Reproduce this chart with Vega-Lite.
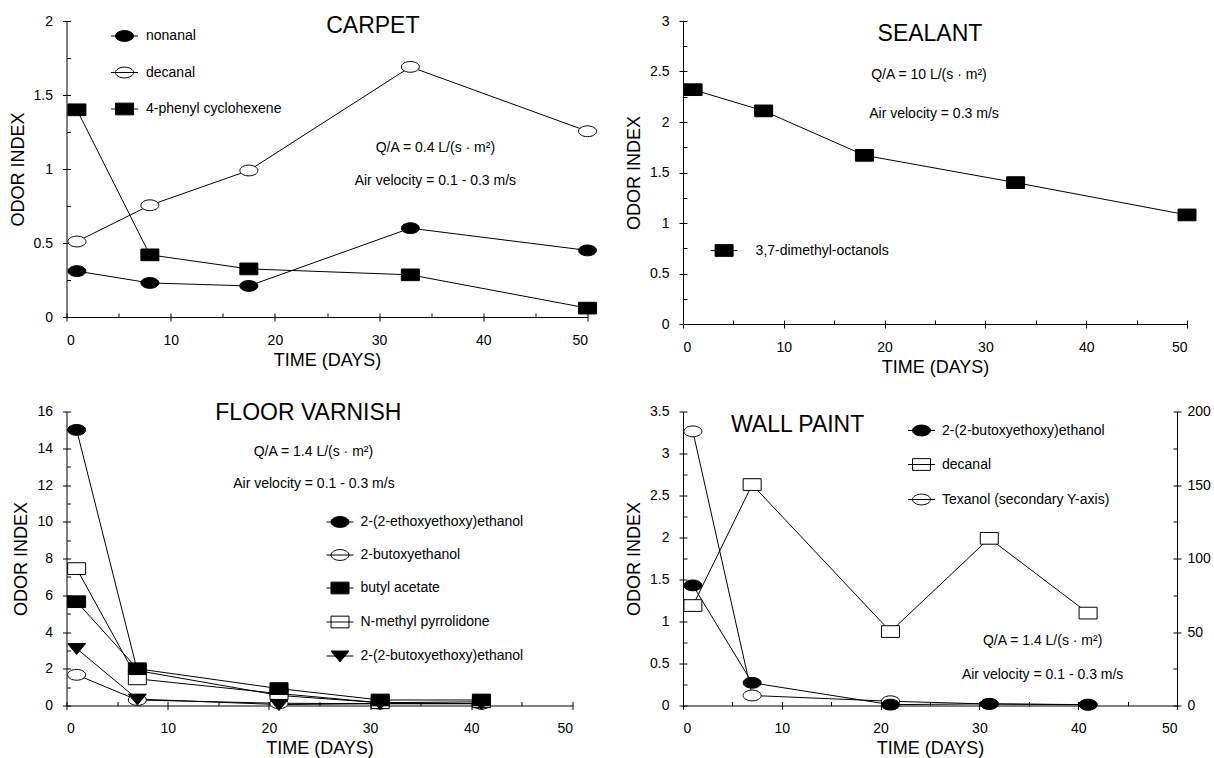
{
  "$schema": "https://vega.github.io/schema/vega-lite/v6.json",
  "padding": {"left": 8.5, "top": 14, "right": 0, "bottom": 0},
  "config": {
    "font": "Liberation Sans",
    "view": {"stroke": null},
    "axis": {"domainColor": "black", "tickColor": "black", "labelColor": "black", "titleColor": "black", "labelFontSize": 14, "titleFontSize": 18, "titleFontWeight": "normal", "grid": false, "labelFont": "Liberation Sans", "titleFont": "Liberation Sans", "domainWidth": 1, "tickWidth": 1},
    "legend": {"labelFontSize": 14, "labelColor": "black", "labelFont": "Liberation Sans", "padding": 0, "symbolOpacity": 1, "symbolStrokeColor": "black", "symbolStrokeWidth": 1, "symbolSize": 324, "orient": "none", "labelLimit": 400},
    "text": {"color": "black", "font": "Liberation Sans"}
  },
  "datasets": {
    "carpet": [
      {"day": 1, "value": 0.31, "compound": "nonanal"},
      {"day": 8, "value": 0.23, "compound": "nonanal"},
      {"day": 17.5, "value": 0.21, "compound": "nonanal"},
      {"day": 33, "value": 0.6, "compound": "nonanal"},
      {"day": 50, "value": 0.45, "compound": "nonanal"},
      {"day": 1, "value": 0.51, "compound": "decanal"},
      {"day": 8, "value": 0.755, "compound": "decanal"},
      {"day": 17.5, "value": 0.99, "compound": "decanal"},
      {"day": 33, "value": 1.69, "compound": "decanal"},
      {"day": 50, "value": 1.255, "compound": "decanal"},
      {"day": 1, "value": 1.4, "compound": "4-phenyl cyclohexene"},
      {"day": 8, "value": 0.42, "compound": "4-phenyl cyclohexene"},
      {"day": 17.5, "value": 0.325, "compound": "4-phenyl cyclohexene"},
      {"day": 33, "value": 0.285, "compound": "4-phenyl cyclohexene"},
      {"day": 50, "value": 0.06, "compound": "4-phenyl cyclohexene"}
    ],
    "sealant": [
      {"day": 1, "value": 2.32, "compound": "3,7-dimethyl-octanols"},
      {"day": 8, "value": 2.11, "compound": "3,7-dimethyl-octanols"},
      {"day": 18, "value": 1.67, "compound": "3,7-dimethyl-octanols"},
      {"day": 33, "value": 1.4, "compound": "3,7-dimethyl-octanols"},
      {"day": 50, "value": 1.08, "compound": "3,7-dimethyl-octanols"}
    ],
    "floor": [
      {"day": 1, "value": 15.0, "compound": "2-(2-ethoxyethoxy)ethanol"},
      {"day": 7, "value": 1.9, "compound": "2-(2-ethoxyethoxy)ethanol"},
      {"day": 21, "value": 0.55, "compound": "2-(2-ethoxyethoxy)ethanol"},
      {"day": 31, "value": 0.15, "compound": "2-(2-ethoxyethoxy)ethanol"},
      {"day": 41, "value": 0.1, "compound": "2-(2-ethoxyethoxy)ethanol"},
      {"day": 1, "value": 1.67, "compound": "2-butoxyethanol"},
      {"day": 7, "value": 0.3, "compound": "2-butoxyethanol"},
      {"day": 21, "value": 0.12, "compound": "2-butoxyethanol"},
      {"day": 31, "value": 0.1, "compound": "2-butoxyethanol"},
      {"day": 41, "value": 0.1, "compound": "2-butoxyethanol"},
      {"day": 1, "value": 7.45, "compound": "N-methyl pyrrolidone"},
      {"day": 7, "value": 1.45, "compound": "N-methyl pyrrolidone"},
      {"day": 21, "value": 0.65, "compound": "N-methyl pyrrolidone"},
      {"day": 31, "value": 0.15, "compound": "N-methyl pyrrolidone"},
      {"day": 41, "value": 0.2, "compound": "N-methyl pyrrolidone"},
      {"day": 1, "value": 3.1, "compound": "2-(2-butoxyethoxy)ethanol"},
      {"day": 7, "value": 0.35, "compound": "2-(2-butoxyethoxy)ethanol"},
      {"day": 21, "value": 0.05, "compound": "2-(2-butoxyethoxy)ethanol"},
      {"day": 31, "value": 0.1, "compound": "2-(2-butoxyethoxy)ethanol"},
      {"day": 41, "value": 0.1, "compound": "2-(2-butoxyethoxy)ethanol"},
      {"day": 1, "value": 5.65, "compound": "butyl acetate"},
      {"day": 7, "value": 2.0, "compound": "butyl acetate"},
      {"day": 21, "value": 0.92, "compound": "butyl acetate"},
      {"day": 31, "value": 0.3, "compound": "butyl acetate"},
      {"day": 41, "value": 0.3, "compound": "butyl acetate"}
    ],
    "wall": [
      {"day": 1, "value": 1.43, "compound": "2-(2-butoxyethoxy)ethanol"},
      {"day": 7, "value": 0.27, "compound": "2-(2-butoxyethoxy)ethanol"},
      {"day": 21, "value": 0.01, "compound": "2-(2-butoxyethoxy)ethanol"},
      {"day": 31, "value": 0.02, "compound": "2-(2-butoxyethoxy)ethanol"},
      {"day": 41, "value": 0.01, "compound": "2-(2-butoxyethoxy)ethanol"},
      {"day": 1, "value": 1.19, "compound": "decanal"},
      {"day": 7, "value": 2.63, "compound": "decanal"},
      {"day": 21, "value": 0.88, "compound": "decanal"},
      {"day": 31, "value": 1.99, "compound": "decanal"},
      {"day": 41, "value": 1.1, "compound": "decanal"},
      {"day": 1, "value": 186.5, "compound": "Texanol (secondary Y-axis)"},
      {"day": 7, "value": 6.8, "compound": "Texanol (secondary Y-axis)"},
      {"day": 21, "value": 2.9, "compound": "Texanol (secondary Y-axis)"},
      {"day": 31, "value": 1.0, "compound": "Texanol (secondary Y-axis)"},
      {"day": 41, "value": 0.5, "compound": "Texanol (secondary Y-axis)"}
    ]
  },
  "columns": 2,
  "align": "all",
  "bounds": "flush",
  "spacing": {"row": 87.5, "column": 95.5},
  "concat": [
    {
      "width": 521, "height": 296,
      "data": {"name": "carpet"},
      "layer": [
        {"mark": {"type": "line", "color": "black", "strokeWidth": 1},
         "encoding": {
           "x": {"field": "day", "type": "quantitative", "scale": {"domain": [0, 50], "nice": false}, "axis": {"orient": "bottom", "title": "TIME (DAYS)", "values": [0, 10, 20, 30, 40, 50], "tickSize": 4, "labelPadding": 12, "titlePadding": 4}},
           "y": {"field": "value", "type": "quantitative", "scale": {"domain": [0, 2], "nice": false}, "axis": {"orient": "left", "title": "ODOR INDEX", "values": [0, 0.5, 1, 1.5, 2], "format": "~r", "tickSize": 4, "labelPadding": 10, "titlePadding": 6}},
           "detail": {"field": "compound"}}},
        {"mark": {"type": "point", "filled": true, "size": 324, "stroke": "black", "strokeWidth": 1, "opacity": 1},
         "encoding": {
           "x": {"field": "day", "type": "quantitative", "scale": {"domain": [0, 50], "nice": false}, "axis": {"orient": "bottom", "title": null, "labels": false, "domain": false, "tickSize": -4, "values": [0, 5, 10, 15, 20, 25, 30, 35, 40, 45, 50]}},
           "y": {"field": "value", "type": "quantitative", "scale": {"domain": [0, 2], "nice": false}, "axis": {"orient": "left", "title": null, "labels": false, "domain": false, "tickSize": -4, "values": [0, 0.25, 0.5, 0.75, 1, 1.25, 1.5, 1.75, 2]}},
           "shape": {"field": "compound", "type": "nominal", "scale": {"domain": ["nonanal", "decanal", "4-phenyl cyclohexene"], "range": ["M-1,0A1,0.6,0,1,0,1,0A1,0.6,0,1,0,-1,0Z", "M-1,0A1,0.6,0,1,0,1,0A1,0.6,0,1,0,-1,0Z", "M-1,-0.65H1V0.65H-1Z"]}, "legend": null},
           "fill": {"field": "compound", "type": "nominal", "scale": {"domain": ["nonanal", "decanal", "4-phenyl cyclohexene"], "range": ["black", "white", "black"]}, "legend": null}}},
        {"mark": {"type": "point", "filled": true, "size": 324, "strokeWidth": 1, "opacity": 0},
         "encoding": {
           "x": {"field": "day", "type": "quantitative", "scale": {"domain": [0, 50], "nice": false}, "axis": null},
           "y": {"field": "value", "type": "quantitative", "scale": {"domain": [0, 2], "nice": false}, "axis": null},
           "shape": {"field": "compound", "type": "nominal", "scale": {"domain": ["nonanal", "decanal", "4-phenyl cyclohexene"], "range": ["M-1.5,0H1.5M-1,0A1,0.6,0,1,0,1,0A1,0.6,0,1,0,-1,0Z", "M-1.5,0H1.5M-1,0A1,0.6,0,1,0,1,0A1,0.6,0,1,0,-1,0Z", "M-1.5,0H1.5M-1,-0.65H1V0.65H-1Z"]}, "legend": {"title": null, "orient": "none", "legendX": 48.5, "legendY": 5.5, "rowPadding": 19.5, "labelOffset": 12}},
           "fill": {"field": "compound", "type": "nominal", "scale": {"domain": ["nonanal", "decanal", "4-phenyl cyclohexene"], "range": ["black", "white", "black"]}, "legend": {"title": null, "orient": "none", "legendX": 48.5, "legendY": 5.5, "rowPadding": 19.5, "labelOffset": 12}},
           "stroke": {"field": "compound", "type": "nominal", "scale": {"domain": ["nonanal", "decanal", "4-phenyl cyclohexene"], "range": ["black", "black", "black"]}, "legend": {"title": null, "orient": "none", "legendX": 48.5, "legendY": 5.5, "rowPadding": 19.5, "labelOffset": 12}}}},
        {"data": {"values": [{}]},
         "mark": {"type": "text", "fontSize": 23, "align": "center", "baseline": "middle", "text": "CARPET"},
         "encoding": {"x": {"datum": 29.4, "type": "quantitative", "scale": {"domain": [0, 50], "nice": false}, "axis": null}, "y": {"datum": 1.966, "type": "quantitative", "scale": {"domain": [0, 2], "nice": false}, "axis": null}}},
        {"data": {"values": [{}]},
         "mark": {"type": "text", "fontSize": 14, "align": "center", "baseline": "middle", "text": "Q/A = 0.4 L/(s · m²)"},
         "encoding": {"x": {"datum": 35.4, "type": "quantitative", "scale": {"domain": [0, 50], "nice": false}, "axis": null}, "y": {"datum": 1.14, "type": "quantitative", "scale": {"domain": [0, 2], "nice": false}, "axis": null}}},
        {"data": {"values": [{}]},
         "mark": {"type": "text", "fontSize": 14, "align": "center", "baseline": "middle", "text": "Air velocity = 0.1 - 0.3 m/s"},
         "encoding": {"x": {"datum": 35.4, "type": "quantitative", "scale": {"domain": [0, 50], "nice": false}, "axis": null}, "y": {"datum": 0.92, "type": "quantitative", "scale": {"domain": [0, 2], "nice": false}, "axis": null}}}
      ],
      "resolve": {"axis": {"x": "independent", "y": "independent"}, "scale": {"shape": "independent", "fill": "independent", "stroke": "independent"}}
    },
    {
      "width": 504, "height": 303,
      "data": {"name": "sealant"},
      "layer": [
        {"mark": {"type": "line", "color": "black", "strokeWidth": 1},
         "encoding": {
           "x": {"field": "day", "type": "quantitative", "scale": {"domain": [0, 50], "nice": false}, "axis": {"orient": "bottom", "title": "TIME (DAYS)", "values": [0, 10, 20, 30, 40, 50], "tickSize": 4, "labelPadding": 12, "titlePadding": 4}},
           "y": {"field": "value", "type": "quantitative", "scale": {"domain": [0, 3], "nice": false}, "axis": {"orient": "left", "title": "ODOR INDEX", "values": [0, 0.5, 1, 1.5, 2, 2.5, 3], "format": "~r", "tickSize": 4, "labelPadding": 10, "titlePadding": 6}},
           "detail": {"field": "compound"}}},
        {"mark": {"type": "point", "filled": true, "size": 324, "stroke": "black", "strokeWidth": 1, "opacity": 1},
         "encoding": {
           "x": {"field": "day", "type": "quantitative", "scale": {"domain": [0, 50], "nice": false}, "axis": {"orient": "bottom", "title": null, "labels": false, "domain": false, "tickSize": -4, "values": [0, 5, 10, 15, 20, 25, 30, 35, 40, 45, 50]}},
           "y": {"field": "value", "type": "quantitative", "scale": {"domain": [0, 3], "nice": false}, "axis": {"orient": "left", "title": null, "labels": false, "domain": false, "tickSize": -4, "values": [0, 0.25, 0.5, 0.75, 1, 1.25, 1.5, 1.75, 2, 2.25, 2.5, 2.75, 3]}},
           "shape": {"field": "compound", "type": "nominal", "scale": {"domain": ["3,7-dimethyl-octanols"], "range": ["M-1,-0.65H1V0.65H-1Z"]}, "legend": null},
           "fill": {"field": "compound", "type": "nominal", "scale": {"domain": ["3,7-dimethyl-octanols"], "range": ["black"]}, "legend": null}}},
        {"mark": {"type": "point", "filled": true, "size": 324, "strokeWidth": 1, "opacity": 0},
         "encoding": {
           "x": {"field": "day", "type": "quantitative", "scale": {"domain": [0, 50], "nice": false}, "axis": null},
           "y": {"field": "value", "type": "quantitative", "scale": {"domain": [0, 3], "nice": false}, "axis": null},
           "shape": {"field": "compound", "type": "nominal", "scale": {"domain": ["3,7-dimethyl-octanols"], "range": ["M-1.5,0H1.5M-1,-0.65H1V0.65H-1Z"]}, "legend": {"title": null, "orient": "none", "legendX": 31.6, "legendY": 220, "labelOffset": 22}},
           "fill": {"field": "compound", "type": "nominal", "scale": {"domain": ["3,7-dimethyl-octanols"], "range": ["black"]}, "legend": {"title": null, "orient": "none", "legendX": 31.6, "legendY": 220, "labelOffset": 22}},
           "stroke": {"field": "compound", "type": "nominal", "scale": {"domain": ["3,7-dimethyl-octanols"], "range": ["black"]}, "legend": {"title": null, "orient": "none", "legendX": 31.6, "legendY": 220, "labelOffset": 22}}}},
        {"data": {"values": [{}]},
         "mark": {"type": "text", "fontSize": 23, "align": "center", "baseline": "middle", "text": "SEALANT"},
         "encoding": {"x": {"datum": 24.5, "type": "quantitative", "scale": {"domain": [0, 50], "nice": false}, "axis": null}, "y": {"datum": 2.87, "type": "quantitative", "scale": {"domain": [0, 3], "nice": false}, "axis": null}}},
        {"data": {"values": [{}]},
         "mark": {"type": "text", "fontSize": 14, "align": "center", "baseline": "middle", "text": "Q/A = 10 L/(s · m²)"},
         "encoding": {"x": {"datum": 24.4, "type": "quantitative", "scale": {"domain": [0, 50], "nice": false}, "axis": null}, "y": {"datum": 2.47, "type": "quantitative", "scale": {"domain": [0, 3], "nice": false}, "axis": null}}},
        {"data": {"values": [{}]},
         "mark": {"type": "text", "fontSize": 14, "align": "center", "baseline": "middle", "text": "Air velocity = 0.3 m/s"},
         "encoding": {"x": {"datum": 24.9, "type": "quantitative", "scale": {"domain": [0, 50], "nice": false}, "axis": null}, "y": {"datum": 2.08, "type": "quantitative", "scale": {"domain": [0, 3], "nice": false}, "axis": null}}}
      ],
      "resolve": {"axis": {"x": "independent", "y": "independent"}, "scale": {"shape": "independent", "fill": "independent", "stroke": "independent"}}
    },
    {
      "width": 506, "height": 294,
      "data": {"name": "floor"},
      "layer": [
        {"mark": {"type": "line", "color": "black", "strokeWidth": 1},
         "encoding": {
           "x": {"field": "day", "type": "quantitative", "scale": {"domain": [0, 50], "nice": false}, "axis": {"orient": "bottom", "title": "TIME (DAYS)", "values": [0, 10, 20, 30, 40, 50], "tickSize": 4, "labelPadding": 12, "titlePadding": 4}},
           "y": {"field": "value", "type": "quantitative", "scale": {"domain": [0, 16], "nice": false}, "axis": {"orient": "left", "title": "ODOR INDEX", "values": [0, 2, 4, 6, 8, 10, 12, 14, 16], "format": "~r", "tickSize": 4, "labelPadding": 10, "titlePadding": 6}},
           "detail": {"field": "compound"}}},
        {"mark": {"type": "point", "filled": true, "size": 324, "stroke": "black", "strokeWidth": 1, "opacity": 1},
         "encoding": {
           "x": {"field": "day", "type": "quantitative", "scale": {"domain": [0, 50], "nice": false}, "axis": {"orient": "bottom", "title": null, "labels": false, "domain": false, "tickSize": -4, "values": [0, 5, 10, 15, 20, 25, 30, 35, 40, 45, 50]}},
           "y": {"field": "value", "type": "quantitative", "scale": {"domain": [0, 16], "nice": false}, "axis": {"orient": "left", "title": null, "labels": false, "domain": false, "tickSize": -4, "values": [0, 1, 2, 3, 4, 5, 6, 7, 8, 9, 10, 11, 12, 13, 14, 15, 16]}},
           "shape": {"field": "compound", "type": "nominal", "scale": {"domain": ["2-(2-ethoxyethoxy)ethanol", "2-butoxyethanol", "butyl acetate", "N-methyl pyrrolidone", "2-(2-butoxyethoxy)ethanol"], "range": ["M-1,0A1,0.6,0,1,0,1,0A1,0.6,0,1,0,-1,0Z", "M-1,0A1,0.6,0,1,0,1,0A1,0.6,0,1,0,-1,0Z", "M-1,-0.65H1V0.65H-1Z", "M-1,-0.65H1V0.65H-1Z", "M-1,-0.55H1L0,0.65Z"]}, "legend": null},
           "fill": {"field": "compound", "type": "nominal", "scale": {"domain": ["2-(2-ethoxyethoxy)ethanol", "2-butoxyethanol", "butyl acetate", "N-methyl pyrrolidone", "2-(2-butoxyethoxy)ethanol"], "range": ["black", "white", "black", "white", "black"]}, "legend": null}}},
        {"mark": {"type": "point", "filled": true, "size": 324, "strokeWidth": 1, "opacity": 0},
         "encoding": {
           "x": {"field": "day", "type": "quantitative", "scale": {"domain": [0, 50], "nice": false}, "axis": null},
           "y": {"field": "value", "type": "quantitative", "scale": {"domain": [0, 16], "nice": false}, "axis": null},
           "shape": {"field": "compound", "type": "nominal", "scale": {"domain": ["2-(2-ethoxyethoxy)ethanol", "2-butoxyethanol", "butyl acetate", "N-methyl pyrrolidone", "2-(2-butoxyethoxy)ethanol"], "range": ["M-1.5,0H1.5M-1,0A1,0.6,0,1,0,1,0A1,0.6,0,1,0,-1,0Z", "M-1.5,0H1.5M-1,0A1,0.6,0,1,0,1,0A1,0.6,0,1,0,-1,0Z", "M-1.5,0H1.5M-1,-0.65H1V0.65H-1Z", "M-1.5,0H1.5M-1,-0.65H1V0.65H-1Z", "M-1.5,0H1.5M-1,-0.55H1L0,0.65Z"]}, "legend": {"title": null, "orient": "none", "legendX": 264, "legendY": 101, "rowPadding": 16, "labelOffset": 11}},
           "fill": {"field": "compound", "type": "nominal", "scale": {"domain": ["2-(2-ethoxyethoxy)ethanol", "2-butoxyethanol", "butyl acetate", "N-methyl pyrrolidone", "2-(2-butoxyethoxy)ethanol"], "range": ["black", "white", "black", "white", "black"]}, "legend": {"title": null, "orient": "none", "legendX": 264, "legendY": 101, "rowPadding": 16, "labelOffset": 11}},
           "stroke": {"field": "compound", "type": "nominal", "scale": {"domain": ["2-(2-ethoxyethoxy)ethanol", "2-butoxyethanol", "butyl acetate", "N-methyl pyrrolidone", "2-(2-butoxyethoxy)ethanol"], "range": ["black", "black", "black", "black", "black"]}, "legend": {"title": null, "orient": "none", "legendX": 264, "legendY": 101, "rowPadding": 16, "labelOffset": 11}}}},
        {"data": {"values": [{}]},
         "mark": {"type": "text", "fontSize": 23, "align": "center", "baseline": "middle", "text": "FLOOR VARNISH"},
         "encoding": {"x": {"datum": 23.9, "type": "quantitative", "scale": {"domain": [0, 50], "nice": false}, "axis": null}, "y": {"datum": 15.9, "type": "quantitative", "scale": {"domain": [0, 16], "nice": false}, "axis": null}}},
        {"data": {"values": [{}]},
         "mark": {"type": "text", "fontSize": 14, "align": "center", "baseline": "middle", "text": "Q/A = 1.4 L/(s · m²)"},
         "encoding": {"x": {"datum": 24.4, "type": "quantitative", "scale": {"domain": [0, 50], "nice": false}, "axis": null}, "y": {"datum": 13.8, "type": "quantitative", "scale": {"domain": [0, 16], "nice": false}, "axis": null}}},
        {"data": {"values": [{}]},
         "mark": {"type": "text", "fontSize": 14, "align": "center", "baseline": "middle", "text": "Air velocity = 0.1 - 0.3 m/s"},
         "encoding": {"x": {"datum": 24.45, "type": "quantitative", "scale": {"domain": [0, 50], "nice": false}, "axis": null}, "y": {"datum": 12.04, "type": "quantitative", "scale": {"domain": [0, 16], "nice": false}, "axis": null}}}
      ],
      "resolve": {"axis": {"x": "independent", "y": "independent"}, "scale": {"shape": "independent", "fill": "independent", "stroke": "independent"}}
    },
    {
      "width": 494, "height": 294,
      "data": {"name": "wall"},
      "layer": [
        {"transform": [{"filter": "datum.compound !== 'Texanol (secondary Y-axis)'"}],
         "mark": {"type": "line", "color": "black", "strokeWidth": 1},
         "encoding": {
           "x": {"field": "day", "type": "quantitative", "scale": {"domain": [0, 50], "nice": false}, "axis": {"orient": "bottom", "title": "TIME (DAYS)", "values": [0, 10, 20, 30, 40, 50], "tickSize": 4, "labelPadding": 12, "titlePadding": 4}},
           "y": {"field": "value", "type": "quantitative", "scale": {"domain": [0, 3.5], "nice": false}, "axis": {"orient": "left", "title": "ODOR INDEX", "values": [0, 0.5, 1, 1.5, 2, 2.5, 3, 3.5], "format": "~r", "tickSize": 4, "labelPadding": 10, "titlePadding": 6}},
           "detail": {"field": "compound"}}},
        {"transform": [{"filter": "datum.compound === 'Texanol (secondary Y-axis)'"}],
         "mark": {"type": "line", "color": "black", "strokeWidth": 1},
         "encoding": {
           "x": {"field": "day", "type": "quantitative", "scale": {"domain": [0, 50], "nice": false}, "axis": null},
           "y": {"field": "value", "type": "quantitative", "scale": {"domain": [0, 200], "nice": false}, "axis": {"orient": "right", "title": null, "values": [0, 50, 100, 150, 200], "format": "d", "tickSize": 4, "labelPadding": 6}}}},
        {"transform": [{"filter": "datum.compound === 'Texanol (secondary Y-axis)'"}],
         "mark": {"type": "point", "filled": true, "size": 324, "stroke": "black", "strokeWidth": 1, "opacity": 1},
         "encoding": {
           "x": {"field": "day", "type": "quantitative", "scale": {"domain": [0, 50], "nice": false}, "axis": null},
           "y": {"field": "value", "type": "quantitative", "scale": {"domain": [0, 200], "nice": false}, "axis": {"orient": "right", "title": null, "labels": false, "domain": false, "tickSize": -4, "values": [0, 25, 50, 75, 100, 125, 150, 175, 200]}},
           "shape": {"field": "compound", "type": "nominal", "scale": {"domain": ["2-(2-butoxyethoxy)ethanol", "decanal", "Texanol (secondary Y-axis)"], "range": ["M-1,0A1,0.6,0,1,0,1,0A1,0.6,0,1,0,-1,0Z", "M-1,-0.65H1V0.65H-1Z", "M-1,0A1,0.6,0,1,0,1,0A1,0.6,0,1,0,-1,0Z"]}, "legend": null},
           "fill": {"field": "compound", "type": "nominal", "scale": {"domain": ["2-(2-butoxyethoxy)ethanol", "decanal", "Texanol (secondary Y-axis)"], "range": ["black", "white", "white"]}, "legend": null}}},
        {"transform": [{"filter": "datum.compound !== 'Texanol (secondary Y-axis)'"}],
         "mark": {"type": "point", "filled": true, "size": 324, "stroke": "black", "strokeWidth": 1, "opacity": 1},
         "encoding": {
           "x": {"field": "day", "type": "quantitative", "scale": {"domain": [0, 50], "nice": false}, "axis": {"orient": "bottom", "title": null, "labels": false, "domain": false, "tickSize": -4, "values": [0, 5, 10, 15, 20, 25, 30, 35, 40, 45, 50]}},
           "y": {"field": "value", "type": "quantitative", "scale": {"domain": [0, 3.5], "nice": false}, "axis": {"orient": "left", "title": null, "labels": false, "domain": false, "tickSize": -4, "values": [0, 0.25, 0.5, 0.75, 1, 1.25, 1.5, 1.75, 2, 2.25, 2.5, 2.75, 3, 3.25, 3.5]}},
           "shape": {"field": "compound", "type": "nominal", "scale": {"domain": ["2-(2-butoxyethoxy)ethanol", "decanal", "Texanol (secondary Y-axis)"], "range": ["M-1,0A1,0.6,0,1,0,1,0A1,0.6,0,1,0,-1,0Z", "M-1,-0.65H1V0.65H-1Z", "M-1,0A1,0.6,0,1,0,1,0A1,0.6,0,1,0,-1,0Z"]}, "legend": null},
           "fill": {"field": "compound", "type": "nominal", "scale": {"domain": ["2-(2-butoxyethoxy)ethanol", "decanal", "Texanol (secondary Y-axis)"], "range": ["black", "white", "white"]}, "legend": null}}},
        {"mark": {"type": "point", "filled": true, "size": 324, "strokeWidth": 1, "opacity": 0},
         "encoding": {
           "x": {"field": "day", "type": "quantitative", "scale": {"domain": [0, 50], "nice": false}, "axis": null},
           "y": {"field": "value", "type": "quantitative", "scale": {"domain": [0, 200], "nice": false}, "axis": null},
           "shape": {"field": "compound", "type": "nominal", "scale": {"domain": ["2-(2-butoxyethoxy)ethanol", "decanal", "Texanol (secondary Y-axis)"], "range": ["M-1.5,0H1.5M-1,0A1,0.6,0,1,0,1,0A1,0.6,0,1,0,-1,0Z", "M-1.5,0H1.5M-1,-0.65H1V0.65H-1Z", "M-1.5,0H1.5M-1,0A1,0.6,0,1,0,1,0A1,0.6,0,1,0,-1,0Z"]}, "legend": {"title": null, "orient": "none", "legendX": 229, "legendY": 9.5, "rowPadding": 17, "labelOffset": 11}},
           "fill": {"field": "compound", "type": "nominal", "scale": {"domain": ["2-(2-butoxyethoxy)ethanol", "decanal", "Texanol (secondary Y-axis)"], "range": ["black", "white", "white"]}, "legend": {"title": null, "orient": "none", "legendX": 229, "legendY": 9.5, "rowPadding": 17, "labelOffset": 11}},
           "stroke": {"field": "compound", "type": "nominal", "scale": {"domain": ["2-(2-butoxyethoxy)ethanol", "decanal", "Texanol (secondary Y-axis)"], "range": ["black", "black", "black"]}, "legend": {"title": null, "orient": "none", "legendX": 229, "legendY": 9.5, "rowPadding": 17, "labelOffset": 11}}}},
        {"data": {"values": [{}]},
         "mark": {"type": "text", "fontSize": 23, "align": "center", "baseline": "middle", "text": "WALL PAINT"},
         "encoding": {"x": {"datum": 11.6, "type": "quantitative", "scale": {"domain": [0, 50], "nice": false}, "axis": null}, "y": {"datum": 3.345, "type": "quantitative", "scale": {"domain": [0, 3.5], "nice": false}, "axis": null}}},
        {"data": {"values": [{}]},
         "mark": {"type": "text", "fontSize": 14, "align": "center", "baseline": "middle", "text": "Q/A = 1.4 L/(s · m²)"},
         "encoding": {"x": {"datum": 36.4, "type": "quantitative", "scale": {"domain": [0, 50], "nice": false}, "axis": null}, "y": {"datum": 0.765, "type": "quantitative", "scale": {"domain": [0, 3.5], "nice": false}, "axis": null}}},
        {"data": {"values": [{}]},
         "mark": {"type": "text", "fontSize": 14, "align": "center", "baseline": "middle", "text": "Air velocity = 0.1 - 0.3 m/s"},
         "encoding": {"x": {"datum": 36.4, "type": "quantitative", "scale": {"domain": [0, 50], "nice": false}, "axis": null}, "y": {"datum": 0.369, "type": "quantitative", "scale": {"domain": [0, 3.5], "nice": false}, "axis": null}}}
      ],
      "resolve": {"axis": {"x": "independent", "y": "independent"}, "scale": {"y": "independent", "shape": "independent", "fill": "independent", "stroke": "independent"}}
    }
  ]
}
